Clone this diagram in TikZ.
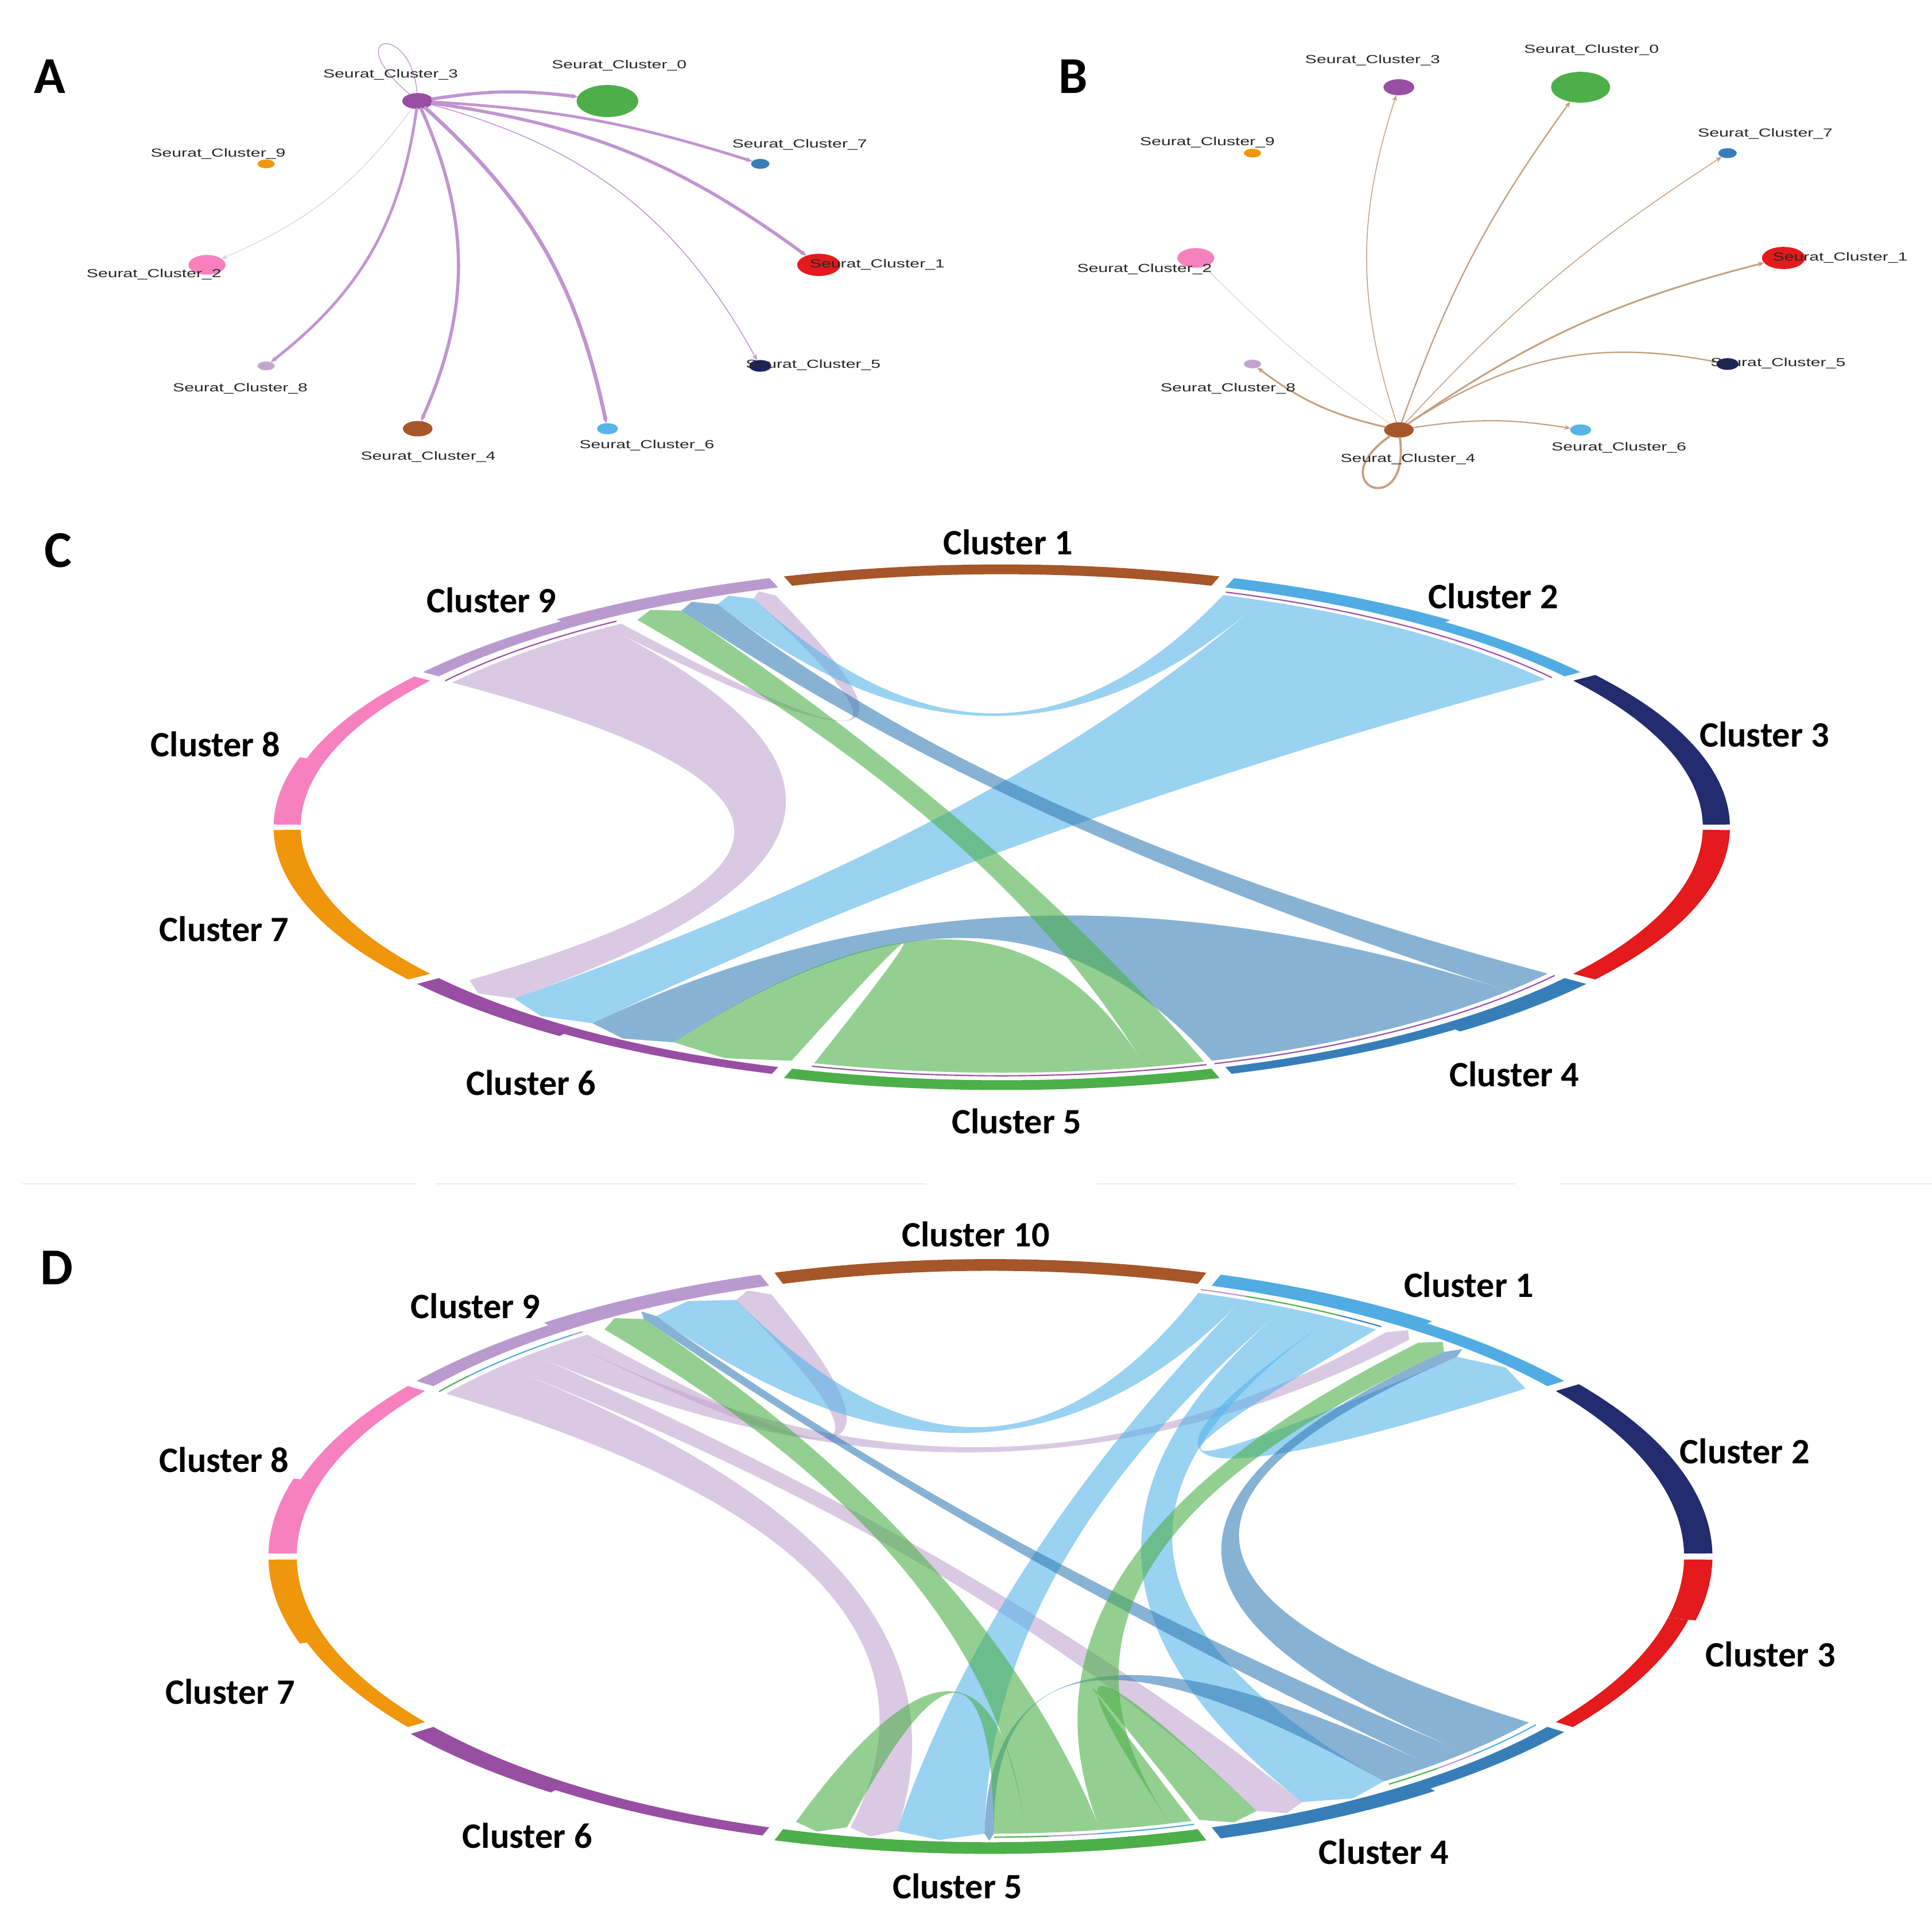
\documentclass[tikz,border=0pt]{standalone}
\usepackage{fontspec}
\setmainfont{Carlito}
\newfontfamily\graphfont{Liberation Sans}
\usepackage{graphicx}
\usetikzlibrary{shapes.geometric, arrows.meta}

% stretched node label of the graph panels
\newcommand\slab[1]{\scalebox{1.48}[1]{#1}}
% ring piece: start, end, colour, outer radius
\newcommand\ringarc[4]{%
  \fill[#3] (#1:\rIn) arc[start angle=#1, end angle=#2, radius=\rIn]
    -- (#2:#4) arc[start angle=#2, end angle=#1, radius=#4] -- cycle;}
% link: flat end s1..s2, pointed end t1..t2, colour
\newcommand\chordband[5]{%
  \fill[#5, ribbonfill] (#1:\rCh) arc[start angle=#1, end angle=#2, radius=\rCh]
    .. controls (#2:\rCtl) and (#3:\rCtl) .. (#3:\rCh)
    -- ({(#3+#4)/2}:{\rCh+\rTip}) -- (#4:\rCh)
    .. controls (#4:\rCtl) and (#1:\rCtl) .. (#1:\rCh) -- cycle;}
% thin target bar along a link end
\newcommand\proptrack[3]{\draw[#3, line width=1pt] (#1:\rTr) arc[start angle=#1, end angle=#2, radius=\rTr];}

\begin{document}
\begin{tikzpicture}[x=1pt, y=-1pt,
    gnode/.style={ellipse, inner sep=0pt, outer sep=0pt},
    glabel/.style={font=\graphfont\fontsize{9.5}{11}\selectfont, text=black!85, inner sep=0pt},
    aedge/.style={draw=edgeA, line cap=round, -{Stealth[length=5pt,width=4pt]}},
    bedge/.style={draw=edgeB, line cap=round, -{Stealth[length=5pt,width=4pt]}},
    panel/.style={font=\fontsize{42}{46}\selectfont\bfseries, inner sep=0pt},
    clabel/.style={font=\fontsize{29}{33}\selectfont\bfseries, inner sep=0pt},
    ribbonfill/.style={fill opacity=0.6},
    sepline/.style={draw=black!8, line width=1pt}]
    % Colors
    \definecolor{clBrown}{RGB}{166,86,40}
    \definecolor{clSky}{RGB}{80,172,226}
    \definecolor{clNavy}{RGB}{34,44,110}
    \definecolor{clRed}{RGB}{228,26,28}
    \definecolor{clBlue}{RGB}{55,126,184}
    \definecolor{clGreen}{RGB}{77,175,74}
    \definecolor{clPurple}{RGB}{152,78,163}
    \definecolor{clOrange}{RGB}{240,150,10}
    \definecolor{clPink}{RGB}{247,129,191}
    \definecolor{clLav}{RGB}{186,154,206}
    \definecolor{chLav}{RGB}{194,165,207}
    \definecolor{chSky}{RGB}{86,180,233}
    \definecolor{nNavy}{RGB}{28,36,100}
    \definecolor{edgeA}{RGB}{192,148,208}
    \definecolor{edgeAfaint}{RGB}{220,210,226}
    \definecolor{edgeB}{RGB}{196,160,128}
    \definecolor{edgeBfaint}{RGB}{224,212,200}

    \useasboundingbox (0,0) rectangle (1568,1561);

    % Panel A
    \node[panel] (pA) at (40.5,62) {A};
    \node[gnode, fill=clPurple, minimum width=25pt, minimum height=13pt] (a3) at (339,82) {};
    \node[gnode, fill=clGreen, minimum width=50pt, minimum height=26pt] (a0) at (493,82) {};
    \node[gnode, fill=clBlue, minimum width=15pt, minimum height=8pt] (a7) at (617,133) {};
    \node[gnode, fill=clOrange, minimum width=14pt, minimum height=7pt] (a9) at (216,133) {};
    \node[gnode, fill=clPink, minimum width=30pt, minimum height=16pt] (a2) at (168,215) {};
    \node[gnode, fill=clRed, minimum width=35pt, minimum height=18pt] (a1) at (664.5,215) {};
    \node[gnode, fill=chLav, minimum width=14pt, minimum height=7pt] (a8) at (216,297) {};
    \node[gnode, fill=nNavy, minimum width=18pt, minimum height=9.5pt] (a5) at (617,297) {};
    \node[gnode, fill=clBrown, minimum width=24pt, minimum height=12.5pt] (a4) at (339,348) {};
    \node[gnode, fill=chSky, minimum width=17pt, minimum height=9pt] (a6) at (493,348) {};

    \draw[aedge, line width=2.6pt] (a3) to[bend left=8] (a0);
    \draw[aedge, line width=2.2pt] (a3) to[bend left=7] (a7);
    \draw[aedge, line width=2.6pt] (a3) to[bend left=14] (a1);
    \draw[aedge, line width=0.7pt] (a3) to[bend left=23] (a5);
    \draw[aedge, line width=3pt] (a3) to[bend left=18] (a6);
    \draw[aedge, line width=2.6pt] (a3) to[bend left=24] (a4);
    \draw[aedge, line width=2.2pt] (a3) to[bend left=22] (a8);
    \draw[aedge, draw=edgeAfaint, line width=0.6pt] (a3) to[bend left=15] (a2);
    \draw[aedge, -, line width=0.6pt] (a3) .. controls +(-65,-55) and +(-5,-65) .. (a3);

    \node[glabel] (la3) at (317,60.7) {\slab{Seurat\_Cluster\_3}};
    \node[glabel] (la0) at (502.5,53) {\slab{Seurat\_Cluster\_0}};
    \node[glabel] (la7) at (649,117.6) {\slab{Seurat\_Cluster\_7}};
    \node[glabel] (la9) at (177,124.9) {\slab{Seurat\_Cluster\_9}};
    \node[glabel] (la2) at (125,222.8) {\slab{Seurat\_Cluster\_2}};
    \node[glabel] (la1) at (712,214.6) {\slab{Seurat\_Cluster\_1}};
    \node[glabel] (la8) at (195,315.6) {\slab{Seurat\_Cluster\_8}};
    \node[glabel] (la5) at (660,296.5) {\slab{Seurat\_Cluster\_5}};
    \node[glabel] (la4) at (347.5,371) {\slab{Seurat\_Cluster\_4}};
    \node[glabel] (la6) at (525,361.6) {\slab{Seurat\_Cluster\_6}};

    % Panel B
    \node[panel] (pB) at (871,62) {B};
    \node[gnode, fill=clBrown, minimum width=24pt, minimum height=12.5pt] (b4) at (1135.3,349) {};
    \node[gnode, fill=clPurple, minimum width=25pt, minimum height=13pt] (b3) at (1135.3,70.8) {};
    \node[gnode, fill=clGreen, minimum width=48pt, minimum height=25pt] (b0) at (1282.8,70.8) {};
    \node[gnode, fill=clBlue, minimum width=15pt, minimum height=8pt] (b7) at (1402,124.3) {};
    \node[gnode, fill=clOrange, minimum width=14pt, minimum height=7pt] (b9) at (1016.5,124.3) {};
    \node[gnode, fill=clPink, minimum width=30pt, minimum height=16pt] (b2) at (970.5,209.4) {};
    \node[gnode, fill=clRed, minimum width=35pt, minimum height=18pt] (b1) at (1447.5,209.4) {};
    \node[gnode, fill=chLav, minimum width=14pt, minimum height=7pt] (b8) at (1016.5,295.5) {};
    \node[gnode, fill=nNavy, minimum width=18pt, minimum height=9.5pt] (b5) at (1402,295.5) {};
    \node[gnode, fill=chSky, minimum width=17pt, minimum height=9pt] (b6) at (1282.8,349) {};

    \draw[bedge, line width=0.7pt] (b4) to[bend left=18] (b3);
    \draw[bedge, line width=1.1pt] (b4) to[bend left=8] (b0);
    \draw[bedge, line width=0.7pt] (b4) to[bend left=7] (b7);
    \draw[bedge, line width=1.4pt] (b4) to[bend left=10] (b1);
    \draw[bedge, line width=1.1pt] (b4) to[bend left=22] (b5);
    \draw[bedge, line width=1pt] (b4) to[bend left=9] (b6);
    \draw[bedge, line width=1.4pt] (b4) to[bend left=12] (b8);
    \draw[bedge, draw=edgeBfaint, line width=0.6pt] (b4) to[bend left=5] (b2);
    \draw[bedge, -, line width=1.8pt] (b4) .. controls +(-65,45) and +(10,75) .. (b4);

    \node[glabel] (lb3) at (1114,48.9) {\slab{Seurat\_Cluster\_3}};
    \node[glabel] (lb0) at (1291.6,40.6) {\slab{Seurat\_Cluster\_0}};
    \node[glabel] (lb7) at (1432.7,108.6) {\slab{Seurat\_Cluster\_7}};
    \node[glabel] (lb9) at (979.9,115.6) {\slab{Seurat\_Cluster\_9}};
    \node[glabel] (lb2) at (928.9,218.4) {\slab{Seurat\_Cluster\_2}};
    \node[glabel] (lb1) at (1493.5,209.4) {\slab{Seurat\_Cluster\_1}};
    \node[glabel] (lb8) at (996.7,315.4) {\slab{Seurat\_Cluster\_8}};
    \node[glabel] (lb5) at (1443.1,295) {\slab{Seurat\_Cluster\_5}};
    \node[glabel] (lb4) at (1142.7,372.8) {\slab{Seurat\_Cluster\_4}};
    \node[glabel] (lb6) at (1313.9,363.5) {\slab{Seurat\_Cluster\_6}};

    % Panel C
    \node[panel] (pC) at (47,447) {C};
    \begin{scope}[shift={(813,671.5)}, x=1pt, y=0.361pt]
      \def\rIn{569}\def\rOut{591}\def\rThin{585}
      \def\rCh{552}\def\rCtl{180}\def\rTip{14}\def\rTr{559}
      % ring
      \ringarc{72.6}{107.4}{clBrown}{\rOut}
      \ringarc{108.6}{127.7}{clLav}{\rOut}
      \ringarc{127.7}{143.4}{clLav}{\rThin}
      \ringarc{144.6}{164.6}{clPink}{\rThin}
      \ringarc{164.6}{179.4}{clPink}{\rOut}
      \ringarc{180.6}{215.4}{clOrange}{\rOut}
      \ringarc{216.6}{232.6}{clPurple}{\rOut}
      \ringarc{232.6}{251.4}{clPurple}{\rThin}
      \ringarc{252.6}{287.4}{clGreen}{\rOut}
      \ringarc{288.6}{309}{clBlue}{\rThin}
      \ringarc{309}{323.4}{clBlue}{\rOut}
      \ringarc{324.6}{359.4}{clRed}{\rOut}
      \ringarc{0.6}{35.4}{clNavy}{\rOut}
      \ringarc{36.6}{52}{clSky}{\rThin}
      \ringarc{52}{71.4}{clSky}{\rOut}
      % links
      \chordband{125.5}{143.9}{218.5}{224.2}{chLav}
      \chordband{124}{125.5}{109.4}{111.4}{chLav}
      \chordband{37}{67.5}{224.2}{233}{chSky}
      \chordband{67.5}{71}{111.4}{114.7}{chSky}
      \chordband{288}{318.2}{233}{241.2}{clBlue}
      \chordband{318.2}{323.4}{114.7}{118.1}{clBlue}
      \chordband{254}{282.2}{241.2}{252}{clGreen}
      \chordband{282.2}{287.3}{118.1}{122.4}{clGreen}
      \proptrack{124}{143.9}{clPurple}
      \proptrack{37}{71}{clPurple}
      \proptrack{288}{323.4}{clPurple}
      \proptrack{254}{287.3}{clPurple}
    \end{scope}
    \node[clabel] (c1) at (818,440) {Cluster 1};
    \node[clabel] (c2) at (1212,484) {Cluster 2};
    \node[clabel] (c3) at (1432,596) {Cluster 3};
    \node[clabel] (c4) at (1229,872) {Cluster 4};
    \node[clabel] (c5) at (825,910) {Cluster 5};
    \node[clabel] (c6) at (431,879) {Cluster 6};
    \node[clabel] (c7) at (182,754) {Cluster 7};
    \node[clabel] (c8) at (175,604) {Cluster 8};
    \node[clabel] (c9) at (399,487) {Cluster 9};

    % Separator
    \draw[sepline] (18,961) -- (338,961);
    \draw[sepline] (354,961) -- (752,961);
    \draw[sepline] (890,961) -- (1230,961);
    \draw[sepline] (1266,961) -- (1568,961);

    % Panel D
    \node[panel] (pD) at (46,1029) {D};
    \begin{scope}[shift={(803.8,1263.5)}, x=1pt, y=0.412pt]
      \def\rIn{563}\def\rOut{586}\def\rThin{580}
      \def\rCh{546}\def\rCtl{180}\def\rTip{14}\def\rTr{553}
      % ring
      \ringarc{72.6}{107.4}{clBrown}{\rOut}
      \ringarc{108.6}{128.2}{clLav}{\rOut}
      \ringarc{128.2}{143.4}{clLav}{\rThin}
      \ringarc{144.6}{164.8}{clPink}{\rThin}
      \ringarc{164.8}{179.4}{clPink}{\rOut}
      \ringarc{180.6}{197}{clOrange}{\rOut}
      \ringarc{197}{215.4}{clOrange}{\rThin}
      \ringarc{216.6}{232.5}{clPurple}{\rOut}
      \ringarc{232.5}{251.4}{clPurple}{\rThin}
      \ringarc{252.6}{287.4}{clGreen}{\rOut}
      \ringarc{288.6}{308}{clBlue}{\rOut}
      \ringarc{308}{323.4}{clBlue}{\rThin}
      \ringarc{324.6}{347.6}{clRed}{\rThin}
      \ringarc{347.6}{359.4}{clRed}{\rOut}
      \ringarc{0.6}{35.4}{clNavy}{\rOut}
      \ringarc{36.6}{52.3}{clSky}{\rThin}
      \ringarc{52.3}{71.4}{clSky}{\rOut}
      % links from cluster 9
      \chordband{126.8}{129}{109}{112.2}{chLav}
      \chordband{129}{133}{51.5}{54}{chLav}
      \chordband{133}{136.5}{293.3}{297.6}{chLav}
      \chordband{136.5}{144}{258}{262}{chLav}
      % links from cluster 1
      \chordband{68}{72}{112.2}{119.8}{chSky}
      \chordband{64}{68}{262}{269.5}{chSky}
      \chordband{59.5}{64}{297.6}{305.8}{chSky}
      \chordband{55}{59.5}{37.3}{46.1}{chSky}
      % links from cluster 4
      \chordband{311}{315}{119.8}{121}{clBlue}
      \chordband{315}{323.2}{46.1}{47.6}{clBlue}
      \chordband{305.8}{311}{269.5}{270.3}{clBlue}
      % links from cluster 5
      \chordband{270.3}{273}{253.2}{257.7}{clGreen}
      \chordband{273}{279.4}{121}{125}{clGreen}
      \chordband{279.4}{285.5}{47.6}{50.5}{clGreen}
      \chordband{285.5}{287.4}{288.1}{293.3}{clGreen}
      % target bars
      \proptrack{139.9}{144}{clGreen}
      \proptrack{127.8}{139.9}{clSky}
      \proptrack{126.8}{127.8}{clLav}
      \proptrack{68}{72}{clLav}
      \proptrack{59.3}{68}{clGreen}
      \proptrack{55}{59.3}{clBlue}
      \proptrack{270.3}{274.9}{clGreen}
      \proptrack{274.9}{279}{clLav}
      \proptrack{279}{287.4}{clSky}
      \proptrack{305.8}{311}{clGreen}
      \proptrack{311}{315.2}{clLav}
      \proptrack{315.2}{323.2}{clSky}
    \end{scope}
    \node[clabel] (d10) at (792,1002) {Cluster 10};
    \node[clabel] (d1) at (1192,1043) {Cluster 1};
    \node[clabel] (d2) at (1416,1178) {Cluster 2};
    \node[clabel] (d3) at (1437,1343) {Cluster 3};
    \node[clabel] (d4) at (1123,1503) {Cluster 4};
    \node[clabel] (d5) at (777,1531) {Cluster 5};
    \node[clabel] (d6) at (428,1490) {Cluster 6};
    \node[clabel] (d7) at (187,1373) {Cluster 7};
    \node[clabel] (d8) at (182,1185) {Cluster 8};
    \node[clabel] (d9) at (386,1060) {Cluster 9};
\end{tikzpicture}
\end{document}
